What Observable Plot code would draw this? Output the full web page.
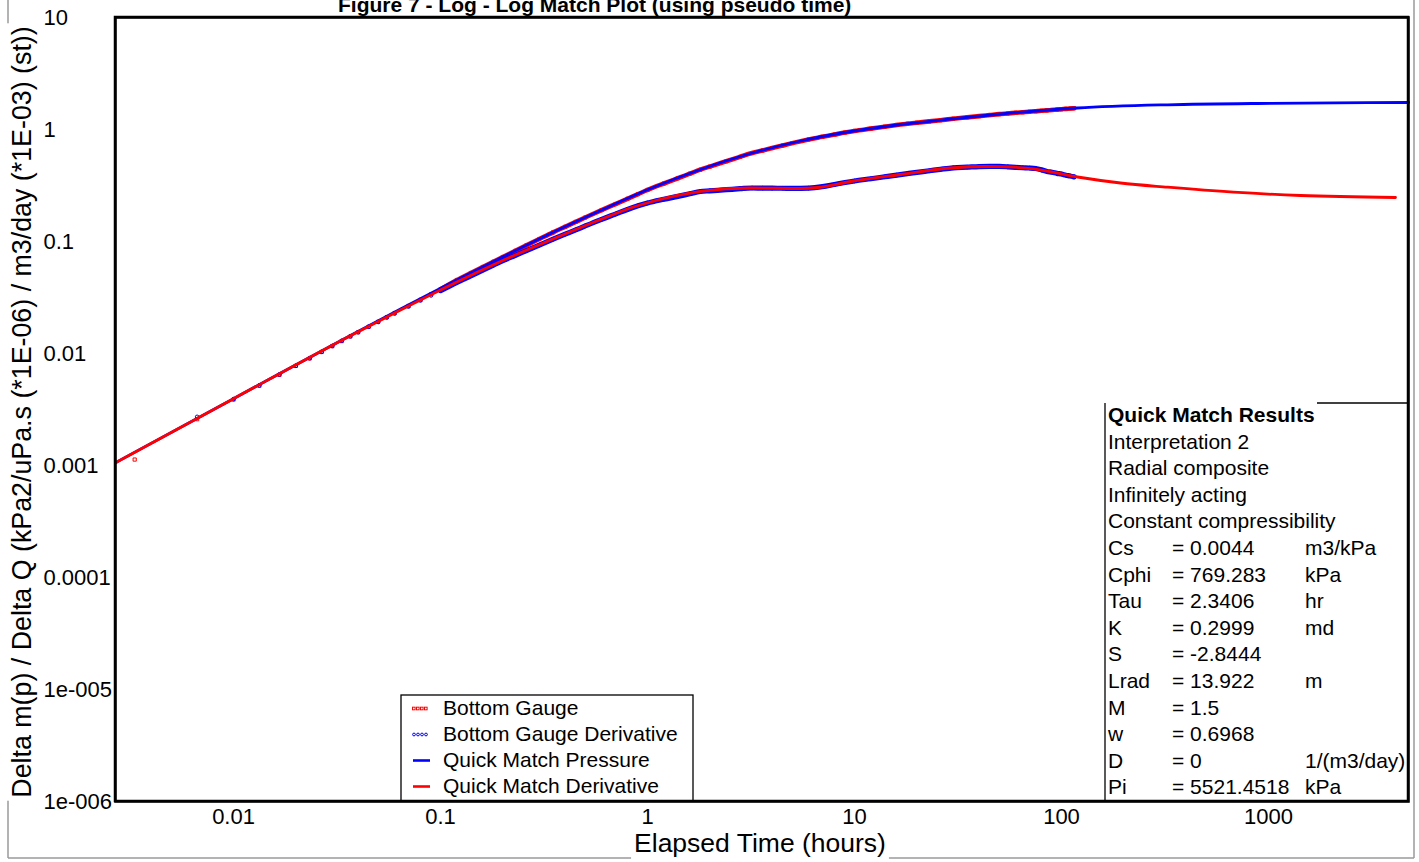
<!DOCTYPE html>
<html>
<head>
<meta charset="utf-8">
<script src="https://cdn.jsdelivr.net/npm/d3@7"></script>
<script src="https://cdn.jsdelivr.net/npm/@observablehq/plot@0.6"></script>
<style>
html, body { margin: 0; padding: 0; background: #fff; overflow: hidden; }
#chart svg { display: block; }
</style>
</head>
<body>
<div id="chart"></div>
<script>
// ---------------- data ----------------
const titleText = "Figure 7 - Log - Log Match Plot (using pseudo time)";
const xLabel = "Elapsed Time (hours)";
const yLabel = "Delta m(p) / Delta Q (kPa2/uPa.s (*1E-06) / m3/day (*1E-03) (st))";

const xTicks = [0.01, 0.1, 1, 10, 100, 1000];
const xTickLabels = ["0.01", "0.1", "1", "10", "100", "1000"];
const yTicks = [10, 1, 0.1, 0.01, 0.001, 0.0001, 0.00001, 0.000001];
const yTickLabels = ["10", "1", "0.1", "0.01", "0.001", "0.0001", "1e-005", "1e-006"];

// Bottom gauge observations (hours)
const gaugeTime = [0.00333, 0.00667, 0.01, 0.01333, 0.01667, 0.02, 0.02333, 0.02667, 0.03, 0.03333,
  0.03667, 0.04, 0.045, 0.05, 0.055, 0.06, 0.07, 0.08, 0.09, 0.1,
  0.12, 0.14, 0.16, 0.18, 0.2, 0.23, 0.26, 0.3, 0.35, 0.4,
  0.45, 0.5, 0.6, 0.7, 0.8, 0.9, 1.0, 1.2, 1.4, 1.6,
  1.8, 2.0, 2.4, 2.8, 3.2, 3.6, 4.0, 4.5, 5.0, 6,
  7, 8, 9, 10, 12, 14, 16, 18, 20, 23,
  26, 30, 35, 40, 45, 50, 55, 60, 65, 70,
  75, 80, 85, 90, 95, 100, 105, 110, 115];
const gaugePressure = [0.00113, 0.00259, 0.00388, 0.00515, 0.00645, 0.00775, 0.00903, 0.01032, 0.01161, 0.0129,
  0.01418, 0.01545, 0.01735, 0.0192, 0.0211, 0.0230, 0.0266, 0.0302, 0.0338, 0.0374,
  0.0453, 0.0523, 0.0592, 0.0660, 0.0727, 0.0826, 0.0924, 0.1052, 0.1208, 0.1353,
  0.1496, 0.1637, 0.1906, 0.2160, 0.2407, 0.2648, 0.2884, 0.3294, 0.3669, 0.4029,
  0.4376, 0.4667, 0.5202, 0.5703, 0.6157, 0.6500, 0.6822, 0.7202, 0.7559, 0.8150,
  0.8602, 0.9014, 0.9393, 0.9709, 1.018, 1.060, 1.097, 1.125, 1.149, 1.181,
  1.211, 1.248, 1.284, 1.316, 1.345, 1.372, 1.391, 1.409, 1.425, 1.441,
  1.455, 1.469, 1.482, 1.494, 1.506, 1.517, 1.528, 1.538, 1.548];
const gaugeDerivative = [null, 0.00272, 0.00392, 0.00520, 0.00650, 0.00776, 0.00908, 0.01035, 0.01168, 0.01300,
  0.01425, 0.01550, 0.01730, 0.01910, 0.02095, 0.02270, 0.02620, 0.02970, 0.03300, 0.03640,
  0.0432, 0.0494, 0.0555, 0.0615, 0.0674, 0.0752, 0.0830, 0.0930, 0.1050, 0.1162,
  0.1268, 0.1376, 0.1578, 0.1758, 0.1932, 0.2082, 0.2208, 0.2385, 0.2530, 0.2668,
  0.2795, 0.2835, 0.2900, 0.2960, 0.3003, 0.2998, 0.2992, 0.2987, 0.2978, 0.2998,
  0.3088, 0.3230, 0.3360, 0.3470, 0.3635, 0.3785, 0.3920, 0.4035, 0.4140, 0.4280,
  0.4410, 0.4550, 0.4612, 0.4670, 0.4690, 0.4680, 0.4640, 0.4590, 0.4555, 0.4530,
  0.4480, 0.4360, 0.4220, 0.4150, 0.4060, 0.4000, 0.3910, 0.3850, 0.3775];

// Quick match model curves
const matchPressureTime = [0.00269, 0.00989, 0.0367, 0.0641, 0.112, 0.195, 0.340, 0.593, 1.034, 1.803,
  3.145, 5.485, 9.565, 16.68, 29.09, 50.74, 119.5, 325.2, 1023, 4746];
const matchPressure = [0.00106, 0.00391, 0.0145, 0.0250, 0.0426, 0.0712, 0.1179, 0.1891, 0.2972, 0.4394,
  0.6105, 0.7895, 0.9597, 1.108, 1.241, 1.375, 1.556, 1.662, 1.713, 1.742];
const matchDerivTime = [0.00269, 0.00989, 0.0367, 0.0641, 0.112, 0.195, 0.340, 0.593, 0.856, 1.034,
  1.803, 3.145, 5.485, 6.627, 9.565, 16.68, 29.09, 42.95, 50.74, 73.22,
  119.5, 192.8, 325.2, 677.4, 1428, 4107];
const matchDeriv = [0.00106, 0.00391, 0.01442, 0.02445, 0.04089, 0.06629, 0.1031, 0.1572, 0.2032, 0.2253,
  0.2796, 0.3003, 0.2972, 0.3034, 0.3433, 0.3964, 0.4532, 0.4673, 0.4655, 0.4457,
  0.3766, 0.3329, 0.3053, 0.2755, 0.2574, 0.2471];

const legendLabels = ["Bottom Gauge", "Bottom Gauge Derivative", "Quick Match Pressure", "Quick Match Derivative"];
const legendColors = ["#ff0000", "#0000ff", "#0000ff", "#ff0000"];
const legendKinds = ["square", "circle", "line", "line"];

const resultsTitle = "Quick Match Results";
const resultsHeader = ["Interpretation 2", "Radial composite", "Infinitely acting", "Constant compressibility"];
const resultNames = ["Cs", "Cphi", "Tau", "K", "S", "Lrad", "M", "w", "D", "Pi"];
const resultValues = ["= 0.0044", "= 769.283", "= 2.3406", "= 0.2999", "= -2.8444", "= 13.922", "= 1.5", "= 0.6968", "= 0", "= 5521.4518"];
const resultUnits = ["m3/kPa", "kPa", "hr", "md", "", "m", "", "", "1/(m3/day)", "kPa"];

// ---------------- build ----------------
const FONT = "'Liberation Sans', Arial, Helvetica, sans-serif";
const gaugeRows = gaugeTime.map((t, i) => ({t, p: gaugePressure[i], d: gaugeDerivative[i]}));
const pRows = matchPressureTime.map((t, i) => ({t, v: matchPressure[i]}));
const dRows = matchDerivTime.map((t, i) => ({t, v: matchDeriv[i]}));

const chart = Plot.plot({
  width: 1419,
  height: 862,
  marginLeft: 115,
  marginRight: 11,
  marginTop: 17,
  marginBottom: 61,
  style: {fontFamily: FONT, fontSize: "22px", background: "#fff", color: "#000", overflow: "visible"},
  x: {type: "log", domain: [0.00269, 4746]},
  y: {type: "log", domain: [1e-6, 10]},
  marks: [
    Plot.dot(gaugeRows, {x: "t", y: "p", symbol: "square", r: 1.8, stroke: "#ff0000", strokeWidth: 1, fill: "none"}),
    Plot.line(gaugeRows, {filter: d => d.t >= 0.1, x: "t", y: "p", stroke: "#ff0000", strokeWidth: 4.6, curve: "monotone-x"}),
    Plot.dot(gaugeRows, {filter: d => d.d != null, x: "t", y: "d", symbol: "circle", r: 1.8, stroke: "#0000ff", strokeWidth: 1, fill: "none"}),
    Plot.line(gaugeRows, {filter: d => d.d != null && d.t >= 0.1, x: "t", y: "d", stroke: "#0000ff", strokeWidth: 5.2, curve: "monotone-x"}),
    Plot.line(pRows, {x: "t", y: "v", stroke: "#0000ff", strokeWidth: 2.8, curve: "monotone-x"}),
    Plot.line(dRows, {x: "t", y: "v", stroke: "#ff0000", strokeWidth: 2.8, curve: "monotone-x"}),
    Plot.frame({stroke: "#000", strokeWidth: 2.5}),
    Plot.axisX({ticks: xTicks, tickFormat: d => xTickLabels[xTicks.indexOf(d)], tickSize: 0, tickPadding: 7, label: null, fontSize: 22}),
    Plot.axisY({ticks: yTicks, tickFormat: d => yTickLabels[yTicks.indexOf(d)], tickSize: 0, tickPadding: 0, dx: -72, textAnchor: "start", label: null, fontSize: 22})
  ]
});
document.getElementById("chart").appendChild(chart);

const svg = d3.select(chart);
const deco = svg.append("g").attr("text-anchor", "start").attr("font-family", FONT);

// outer gray border
const gray = "#9a9a9a";
deco.append("line").attr("x1", 8).attr("y1", 0).attr("x2", 8).attr("y2", 858).attr("stroke", gray).attr("stroke-width", 1.5);
deco.append("line").attr("x1", 8).attr("y1", 858).attr("x2", 1414).attr("y2", 858).attr("stroke", gray).attr("stroke-width", 1.5);
deco.append("line").attr("x1", 1414).attr("y1", 0).attr("x2", 1414).attr("y2", 858).attr("stroke", gray).attr("stroke-width", 1.5);

// title
deco.append("text").attr("x", 338).attr("y", 12).attr("text-anchor", "start").attr("font-size", 21)
  .attr("font-weight", "bold").attr("fill", "#000").text(titleText);

// x label with white background
const xl = deco.append("text").attr("x", 760).attr("y", 852).attr("text-anchor", "middle")
  .attr("font-size", 26.5).attr("fill", "#000").text(xLabel);
const xlLen = xl.node().getComputedTextLength();
deco.insert("rect", () => xl.node()).attr("x", 760 - xlLen / 2 - 3).attr("y", 830).attr("width", xlLen + 6).attr("height", 32).attr("fill", "#fff");

// y label with white background
const yl = deco.append("text").attr("transform", "translate(31,412) rotate(-90)").attr("text-anchor", "middle")
  .attr("font-size", 26.8).attr("fill", "#000").text(yLabel);
const ylLen = yl.node().getComputedTextLength();
deco.insert("rect", () => yl.node()).attr("x", 4).attr("y", 412 - ylLen / 2 - 3).attr("width", 36).attr("height", ylLen + 6).attr("fill", "#fff");

// legend
const lg = deco.append("g").attr("text-anchor", "start");
lg.append("rect").attr("x", 401).attr("y", 695).attr("width", 292).attr("height", 106)
  .attr("fill", "#fff").attr("stroke", "#000").attr("stroke-width", 1.3);
legendLabels.forEach((lab, i) => {
  const base = 715 + 26 * i;
  const cy = base - 6.5;
  const col = legendColors[i];
  if (legendKinds[i] === "square") {
    for (let k = 0; k < 4; k++) lg.append("rect").attr("x", 412.5 + 4 * k).attr("y", cy - 1.3).attr("width", 2.6).attr("height", 2.6)
      .attr("fill", "none").attr("stroke", col).attr("stroke-width", 1);
  } else if (legendKinds[i] === "circle") {
    for (let k = 0; k < 4; k++) lg.append("circle").attr("cx", 414 + 4 * k).attr("cy", cy).attr("r", 1.4)
      .attr("fill", "none").attr("stroke", col).attr("stroke-width", 1);
  } else {
    lg.append("line").attr("x1", 413).attr("x2", 430).attr("y1", cy).attr("y2", cy).attr("stroke", col).attr("stroke-width", 2.6);
  }
  lg.append("text").attr("x", 443).attr("y", base).attr("text-anchor", "start").attr("font-size", 21).attr("fill", "#000").text(lab);
});

// results box
const rb = deco.append("g").attr("text-anchor", "start");
rb.append("rect").attr("x", 1105).attr("y", 403).attr("width", 303).attr("height", 398).attr("fill", "#fff");
rb.append("line").attr("x1", 1105).attr("x2", 1105).attr("y1", 403).attr("y2", 801).attr("stroke", "#000").attr("stroke-width", 1.3);
rb.append("line").attr("x1", 1317).attr("x2", 1408).attr("y1", 403).attr("y2", 403).attr("stroke", "#000").attr("stroke-width", 1.3);
const rowY = i => 422 + 26.6 * i;
const addText = (x, y, s, bold) => rb.append("text").attr("x", x).attr("y", y).attr("text-anchor", "start")
  .attr("font-size", 21).attr("font-weight", bold ? "bold" : "normal").attr("fill", "#000").text(s);
addText(1108, rowY(0), resultsTitle, true);
resultsHeader.forEach((s, i) => addText(1108, rowY(i + 1), s, false));
resultNames.forEach((s, i) => {
  const y = rowY(i + 5);
  addText(1108, y, s, false);
  addText(1172, y, resultValues[i], false);
  if (resultUnits[i]) addText(1305, y, resultUnits[i], false);
});
// redraw frame edges over the boxes
deco.append("rect").attr("x", 115).attr("y", 17).attr("width", 1293).attr("height", 784)
  .attr("fill", "none").attr("stroke", "#000").attr("stroke-width", 2.5);
</script>
</body>
</html>
